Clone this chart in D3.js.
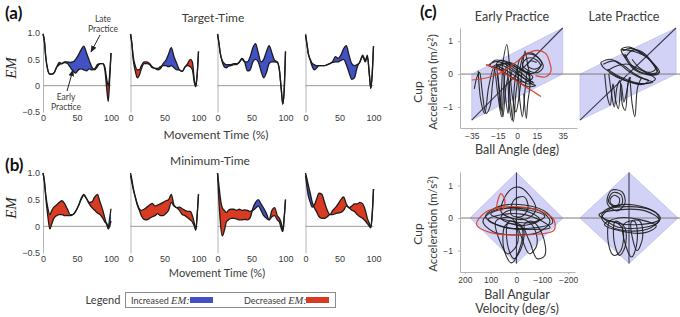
<!DOCTYPE html>
<html>
<head>
<meta charset="utf-8">
<script src="https://cdn.jsdelivr.net/npm/d3@7"></script>
<style>
body { margin: 0; background: #fff; }
svg { display: block; font-family: Lato, "Open Sans", sans-serif; }
</style>
</head>
<body>
<svg id="fig" width="680" height="317"></svg>
<script>
// ---- data: EM over movement time (early vs late practice) ----
const movementTime = [0, 2, 4, 7, 10, 13, 16, 20, 24, 28, 32, 36, 40, 44, 48, 52, 56, 60, 64, 68, 72, 76, 80, 84, 88, 91, 94, 96, 98, 100];
const emTicks = [1, 0.5, 0, -0.5];
const timeTicks = [0, 50, 100];

const targetEarly = [
    [0.98, 0.85, 0.55, 0.3, 0.22, 0.22, 0.24, 0.35, 0.44, 0.42, 0.44, 0.42, 0.35, 0.28, 0.24, 0.3, 0.32, 0.3, 0.28, 0.32, 0.3, 0.32, 0.4, 0.42, 0.42, 0.35, 0.1, 0.0, 0.2, 0.62],
    [0.98, 0.8, 0.55, 0.38, 0.3, 0.3, 0.38, 0.45, 0.45, 0.42, 0.36, 0.33, 0.33, 0.36, 0.38, 0.38, 0.36, 0.38, 0.34, 0.3, 0.3, 0.27, 0.35, 0.42, 0.5, 0.45, 0.1, 0.0, 0.2, 0.65],
    [0.98, 0.82, 0.62, 0.45, 0.36, 0.34, 0.37, 0.38, 0.4, 0.4, 0.45, 0.52, 0.45, 0.28, 0.3, 0.45, 0.5, 0.45, 0.28, 0.15, 0.25, 0.42, 0.45, 0.45, 0.44, 0.3, -0.1, -0.35, -0.1, 0.65],
    [0.97, 0.8, 0.62, 0.48, 0.36, 0.3, 0.33, 0.38, 0.38, 0.38, 0.4, 0.42, 0.44, 0.45, 0.45, 0.48, 0.5, 0.4, 0.25, 0.12, 0.15, 0.35, 0.45, 0.55, 0.45, 0.55, 0.2, -0.05, 0.2, 0.75]
];
const targetLate = [
    [0.98, 0.85, 0.55, 0.3, 0.22, 0.22, 0.24, 0.35, 0.4, 0.42, 0.45, 0.45, 0.44, 0.45, 0.5, 0.58, 0.68, 0.75, 0.62, 0.48, 0.35, 0.3, 0.36, 0.42, 0.42, 0.3, -0.1, -0.3, 0.1, 0.62],
    [0.98, 0.8, 0.5, 0.28, 0.15, 0.2, 0.32, 0.42, 0.42, 0.4, 0.34, 0.33, 0.3, 0.32, 0.42, 0.48, 0.6, 0.72, 0.55, 0.42, 0.3, 0.27, 0.35, 0.38, 0.36, 0.3, 0.05, -0.02, 0.2, 0.65],
    [0.98, 0.82, 0.62, 0.48, 0.42, 0.4, 0.4, 0.4, 0.42, 0.42, 0.44, 0.5, 0.45, 0.45, 0.55, 0.72, 0.8, 0.62, 0.45, 0.5, 0.65, 0.76, 0.62, 0.48, 0.45, 0.3, -0.1, -0.35, -0.1, 0.65],
    [0.97, 0.8, 0.62, 0.5, 0.42, 0.4, 0.38, 0.38, 0.38, 0.38, 0.4, 0.42, 0.46, 0.55, 0.52, 0.58, 0.7, 0.76, 0.58, 0.42, 0.38, 0.4, 0.45, 0.58, 0.48, 0.58, 0.2, -0.05, 0.2, 0.75]
];
const minimumEarly = [
    [1.0, 0.85, 0.6, 0.35, 0.22, 0.3, 0.36, 0.4, 0.45, 0.48, 0.42, 0.32, 0.22, 0.22, 0.28, 0.38, 0.5, 0.58, 0.52, 0.45, 0.46, 0.55, 0.6, 0.45, 0.3, 0.15, 0.02, -0.05, 0.0, 0.1],
    [0.95, 0.82, 0.7, 0.55, 0.42, 0.33, 0.3, 0.32, 0.36, 0.4, 0.43, 0.38, 0.4, 0.42, 0.45, 0.48, 0.5, 0.6, 0.4, 0.35, 0.36, 0.33, 0.3, 0.28, 0.28, 0.2, 0.05, -0.07, 0.2, 0.6],
    [1.0, 0.78, 0.55, 0.35, 0.3, 0.26, 0.3, 0.32, 0.32, 0.3, 0.32, 0.3, 0.31, 0.3, 0.28, 0.3, 0.34, 0.38, 0.3, 0.2, 0.15, 0.12, 0.3, 0.35, 0.2, 0.15, 0.05, -0.08, 0.15, 0.5],
    [0.95, 0.75, 0.58, 0.45, 0.36, 0.4, 0.5, 0.62, 0.6, 0.45, 0.3, 0.22, 0.3, 0.35, 0.42, 0.5, 0.55, 0.42, 0.35, 0.38, 0.42, 0.42, 0.45, 0.42, 0.3, 0.15, 0.05, -0.02, 0.2, 0.7]
];
const minimumLate = [
    [1.0, 0.85, 0.55, 0.2, -0.05, 0.05, 0.15, 0.2, 0.22, 0.22, 0.2, 0.2, 0.2, 0.22, 0.28, 0.38, 0.52, 0.6, 0.52, 0.42, 0.35, 0.3, 0.25, 0.22, 0.15, 0.08, 0.05, -0.02, 0.15, 0.33],
    [1.0, 0.88, 0.72, 0.55, 0.4, 0.3, 0.2, 0.13, 0.12, 0.15, 0.18, 0.2, 0.24, 0.2, 0.2, 0.24, 0.3, 0.45, 0.38, 0.35, 0.3, 0.22, 0.2, 0.16, 0.12, 0.08, 0.0, -0.07, 0.2, 0.6],
    [1.0, 0.5, 0.1, -0.18, -0.08, 0.08, 0.12, 0.15, 0.15, 0.14, 0.12, 0.12, 0.13, 0.12, 0.16, 0.34, 0.45, 0.5, 0.42, 0.34, 0.24, 0.12, 0.18, 0.2, 0.12, 0.08, -0.05, -0.1, 0.15, 0.5],
    [1.0, 0.9, 0.78, 0.62, 0.45, 0.35, 0.28, 0.18, 0.15, 0.15, 0.18, 0.22, 0.22, 0.24, 0.25, 0.26, 0.3, 0.38, 0.35, 0.3, 0.28, 0.22, 0.18, 0.15, 0.1, 0.05, 0.0, -0.03, 0.2, 0.7]
];

// ---- data: phase portraits, panel (c) ----
const angleLimit = 35;     // deg
const velocityLimit = 180; // deg/s
const accLimit = 1.4;      // m/s^2
const angleTicks = [-35, -15, 0, 15, 35];
const velocityTicks = [200, 100, 0, -100, -200];
const accTicks = [1, 0, -1];

const earlyAnglePaths = [
    [[-30, 0.1], [-28, -0.8], [-25, -1.2], [-22, -0.4], [-18, 0.2], [-15, -0.6], [-12, -1.3], [-10, -0.2], [-8, 0.3], [-6, -1.0], [-4, -1.4], [-2, -0.3], [0, 0.2], [2, -0.8], [4, -1.3], [6, -0.5], [8, 0.1], [10, -0.3]],
    [[-33, -0.45], [-31, -0.1], [-29, 0.05], [-27, -0.5], [-24, -1.2], [-21, -1.0], [-19, -0.3], [-17, 0.25]],
    [[-22, 0.28], [-16, 0.38], [-9, 0.3], [-2, 0.1], [5, -0.12], [11, -0.3], [14, -0.35], [8, -0.38], [0, -0.22], [-8, 0.0], [-15, 0.18], [-21, 0.25], [-17, 0.42], [-10, 0.38], [-3, 0.2], [4, 0.0], [10, -0.2], [13, -0.28]],
    [[-18, 0.1], [-12, 0.32], [-5, 0.28], [2, 0.15], [8, 0.05], [12, -0.1], [6, -0.25], [-2, -0.15], [-10, 0.05], [-14, 0.2], [-6, 0.35], [2, 0.2], [9, 0.0]],
    [[0, 0.05], [2, 0.45], [7, 0.6], [13, 0.58], [18, 0.42], [20, 0.22], [16, 0.05], [9, 0.1], [4, 0.3], [8, 0.48], [14, 0.45], [18, 0.25], [12, 0.02], [5, 0.08]],
    [[-12, 0.1], [-8, 0.9], [-6, 0.3], [-4, -0.6], [-1, -1.15], [2, -0.5], [4, 0.2], [6, 0.7], [8, 0.3], [10, -0.2], [8, -0.9], [7, -1.35], [5, -0.6]],
    [[-15, 0.0], [-13, -0.7], [-11, -1.3], [-9, -0.5], [-7, -0.1], [-5, -0.9], [-3, -1.45], [-1, -0.6], [1, 0.0]],
    [[-20, 0.2], [-14, 0.3], [-6, 0.15], [0, 0.0], [6, -0.15], [12, -0.25], [8, -0.3], [0, -0.1], [-8, 0.1], [-16, 0.3], [-12, 0.42], [-4, 0.3], [4, 0.1], [10, -0.05]],
    [[2, 0.1], [5, 0.55], [10, 0.65], [16, 0.5], [19, 0.3], [14, 0.15], [8, 0.25], [10, 0.4], [15, 0.35]],
    [[-16, 0.3], [-14, -0.5], [-13, -1.1], [-12, -0.4], [-11, 0.2], [-9, -0.7], [-7, -1.2], [-6, -0.4], [-4, 0.1]]
];
const earlyAngleRed = [
    [[-35, -0.18], [-28, -0.15], [-18, -0.05], [-8, 0.15], [2, 0.45], [9, 0.65], [16, 0.72], [22, 0.62], [25, 0.35], [26, 0.1], [22, -0.08], [14, -0.05]],
    [[-24, 0.28], [-14, 0.12], [-4, -0.12], [6, -0.38], [16, -0.62], [18, -0.68], [12, -0.52], [2, -0.28], [-8, -0.02], [-16, 0.16], [-24, 0.3]]
];
const lateAnglePaths = [
    [[-5, 0.75], [5, 0.68], [14, 0.5], [21, 0.15], [22, 0.0], [14, -0.02], [5, 0.12], [-1, 0.42], [-5, 0.75], [1, 0.82], [10, 0.62], [18, 0.35], [23, 0.05], [12, 0.0], [2, 0.25], [-3, 0.6]],
    [[-20, 0.35], [-13, 0.45], [-6, 0.3], [0, 0.1], [8, -0.1], [15, -0.2], [10, -0.32], [0, -0.22], [-10, -0.02], [-18, 0.2], [-20, 0.35]],
    [[-17, 0.0], [-15, -0.7], [-13, -0.95], [-11, -0.3], [-9, -0.8], [-7, -1.05], [-5, -0.3], [-3, -0.85], [-1, -0.55], [1, -0.1], [3, -0.9], [5, -1.3], [7, -0.4], [10, -0.1]],
    [[-15, 0.1], [-8, 0.25], [0, 0.3], [8, 0.15], [15, 0.0], [20, -0.15], [12, -0.3], [2, -0.25], [-8, -0.1], [-14, 0.05]],
    [[-2, 0.5], [3, 0.72], [9, 0.7], [16, 0.45], [20, 0.15], [15, 0.05], [8, 0.2], [3, 0.45]],
    [[-4, 0.7], [2, 0.78], [12, 0.58], [19, 0.25], [21, 0.05], [10, 0.05], [2, 0.3], [-2, 0.6]],
    [[-18, 0.3], [-10, 0.4], [-3, 0.25], [5, 0.0], [12, -0.15], [18, -0.25], [8, -0.28], [-5, -0.1], [-15, 0.15]],
    [[-14, 0.0], [-12, -0.6], [-10, -1.0], [-8, -0.4], [-6, -0.2], [-4, -0.95], [-2, -1.1], [0, -0.3], [2, -0.1]]
];
const earlyVelocityLoops = [
    [[130, -0.1], [90, 0.22], [0, 0.32], [-90, 0.22], [-130, -0.1], [-90, -0.42], [0, -0.52], [90, -0.42]],
    [[60, 0.2], [30, 0.82], [-10, 0.95], [-50, 0.7], [-75, 0.25], [-40, -0.02], [20, 0.0]],
    [[40, -0.2], [50, -0.9], [20, -1.38], [-10, -1.0], [-20, -0.3]],
    [[-30, -0.2], [-55, -0.8], [-80, -1.25], [-110, -1.15], [-100, -0.5], [-60, -0.1]],
    [[80, -0.1], [65, -0.7], [35, -1.1], [0, -0.85], [-5, -0.4], [20, 0.0]],
    [[100, 0.12], [40, 0.3], [-40, 0.26], [-110, 0.05], [-60, -0.14], [20, -0.1]],
    [[110, -0.05], [60, 0.1], [-20, 0.12], [-100, -0.1], [-130, -0.3], [-60, -0.35], [40, -0.3]],
    [[20, 0.1], [10, 0.55], [-30, 0.65], [-45, 0.3], [-20, 0.05]],
    [[60, 0.0], [40, 0.2], [-10, 0.25], [-60, 0.15], [-90, -0.05], [-50, -0.2], [10, -0.2]],
    [[30, -0.1], [35, -0.8], [10, -1.25], [-20, -0.9], [-25, -0.3]],
    [[120, 0.05], [70, 0.35], [-30, 0.4], [-120, 0.15], [-140, -0.15], [-70, -0.3], [60, -0.25]],
    [[0, 0.0], [-20, -0.6], [-50, -1.1], [-80, -0.8], [-60, -0.2]]
];
const earlyVelocityRed = [
    [[155, -0.2], [120, 0.18], [60, 0.33], [0, 0.35], [-80, 0.25], [-145, -0.05], [-145, -0.38], [-80, -0.5], [0, -0.52], [100, -0.45]],
    [[70, 0.6], [60, 0.75], [45, 0.55], [55, 0.25], [75, 0.3]]
];
const lateVelocityLoops = [
    [[100, 0.0], [70, 0.28], [0, 0.35], [-80, 0.25], [-115, 0.0], [-80, -0.3], [0, -0.4], [70, -0.25]],
    [[80, 0.45], [65, 0.85], [25, 0.8], [15, 0.45], [45, 0.22]],
    [[70, -0.1], [75, -0.8], [55, -1.15], [30, -1.0], [25, -0.3]],
    [[20, -0.2], [10, -0.9], [-10, -1.2], [-30, -0.7], [-20, -0.1]],
    [[110, 0.1], [40, 0.25], [-60, 0.22], [-110, -0.05], [-40, -0.2], [60, -0.12]],
    [[90, -0.2], [40, 0.0], [-40, -0.05], [-100, -0.25], [-60, -0.45], [30, -0.4]],
    [[70, 0.55], [55, 0.7], [35, 0.6], [40, 0.4], [60, 0.4]],
    [[100, 0.1], [60, 0.35], [-20, 0.4], [-100, 0.15], [-110, -0.1], [-50, -0.3], [50, -0.25]],
    [[50, -0.1], [55, -0.7], [35, -1.15], [15, -0.9], [15, -0.3]],
    [[75, 0.5], [60, 0.78], [30, 0.72], [25, 0.45], [50, 0.35]],
    [[-10, -0.1], [-15, -0.7], [-30, -1.0], [-50, -0.6], [-40, -0.1]]
];

const blue = "#4251c4", red = "#d83a22", ink = "#1c1c1c", label = "#3a3a3a";

const svg = d3.select("#fig");
const defs = svg.append("defs");
defs.append("marker").attr("id", "arrow").attr("viewBox", "0 0 10 10")
    .attr("refX", 9).attr("refY", 5).attr("markerWidth", 7).attr("markerHeight", 7)
    .attr("orient", "auto")
    .append("path").attr("d", "M0,1 L10,5 L0,9 Z").attr("fill", "#222");

function styleAxis(g, size = 9) {
    g.selectAll("text").attr("fill", label).attr("font-size", size);
    g.select(".domain").attr("stroke", "#b5b5b5");
}

// ---- panels (a) and (b) ----
const subplotLefts = [43, 130.5, 217.5, 305.5];
const subplotWidth = 68;

function drawEmRow(earlyRows, lateRows, top, bottom) {
    let y = d3.scaleLinear([-0.5, 1], [bottom, top]);
    subplotLefts.forEach((left, i) => {
        let x = d3.scaleLinear([0, 100], [left, left + subplotWidth]);
        let rows = movementTime.map((t, k) => ({ t, e: earlyRows[i][k], l: lateRows[i][k] }));
        let g = svg.append("g");

        let yAxis = d3.axisLeft(y).tickValues(i == 0 ? emTicks : []).tickSize(0).tickSizeOuter(0).tickPadding(3)
            .tickFormat(d => d == 0 ? "0" : d3.format(".1f")(d));
        g.append("g").attr("transform", `translate(${left},0)`).call(yAxis).call(styleAxis);

        let xAxis = d3.axisBottom(x).tickValues(timeTicks).tickSize(0).tickPadding(3);
        g.append("g").attr("transform", `translate(0,${bottom})`).call(xAxis).call(styleAxis)
            .select(".domain").remove();

        g.append("line").attr("x1", x(0)).attr("x2", x(100)).attr("y1", y(0)).attr("y2", y(0))
            .attr("stroke", "#9a9a9a").attr("stroke-width", 1);

        let area = d3.area().x(d => x(d.t)).curve(d3.curveMonotoneX);
        g.append("path").datum(rows).attr("fill", blue)
            .attr("d", area.y0(d => y(d.e)).y1(d => y(Math.max(d.e, d.l))));
        g.append("path").datum(rows).attr("fill", red)
            .attr("d", area.y0(d => y(d.e)).y1(d => y(Math.min(d.e, d.l))));

        let line = d3.line().x(d => x(d.t)).curve(d3.curveMonotoneX);
        g.append("path").datum(rows).attr("fill", "none").attr("stroke", ink).attr("stroke-width", 1.3)
            .attr("d", line.y(d => y(d.e)));
        g.append("path").datum(rows).attr("fill", "none").attr("stroke", ink).attr("stroke-width", 1.3)
            .attr("d", line.y(d => y(d.l)));
    });
    return y;
}

drawEmRow(targetEarly, targetLate, 33, 112);
drawEmRow(minimumEarly, minimumLate, 173, 253);

svg.append("text").attr("x", 5).attr("y", 19).attr("font-size", 17).attr("font-weight", "bold").attr("fill", "#111").text("(a)");
svg.append("text").attr("x", 5).attr("y", 171).attr("font-size", 17).attr("font-weight", "bold").attr("fill", "#111").text("(b)");
svg.append("text").attr("x", 420).attr("y", 18).attr("font-size", 17).attr("font-weight", "bold").attr("fill", "#111").text("(c)");

svg.append("text").attr("x", 213).attr("y", 22).attr("text-anchor", "middle").attr("font-size", 12).attr("fill", label).text("Target-Time");
svg.append("text").attr("x", 210).attr("y", 165).attr("text-anchor", "middle").attr("font-size", 12).attr("fill", label).text("Minimum-Time");
svg.append("text").attr("x", 216).attr("y", 139).attr("text-anchor", "middle").attr("font-size", 12).attr("fill", label).text("Movement Time (%)");
svg.append("text").attr("x", 217).attr("y", 277).attr("text-anchor", "middle").attr("font-size", 11).attr("fill", label).text("Movement Time (%)");

for (let cy of [68, 208]) {
    svg.append("text").attr("transform", `translate(16,${cy}) rotate(-90)`).attr("text-anchor", "middle")
        .attr("font-family", "'Liberation Serif', serif").attr("font-style", "italic").attr("font-size", 15)
        .attr("fill", "#222").text("EM");
}

// annotations in first target-time subplot
let note = svg.append("g").attr("font-size", 8.5).attr("fill", label).attr("text-anchor", "middle");
note.append("text").attr("x", 103).attr("y", 22).text("Late");
note.append("text").attr("x", 103).attr("y", 32).text("Practice");
note.append("text").attr("x", 66).attr("y", 100).text("Early");
note.append("text").attr("x", 66).attr("y", 110).text("Practice");
svg.append("line").attr("x1", 100).attr("y1", 35).attr("x2", 91).attr("y2", 52)
    .attr("stroke", "#222").attr("stroke-width", 1).attr("marker-end", "url(#arrow)");
svg.append("line").attr("x1", 67).attr("y1", 91).attr("x2", 73).attr("y2", 70)
    .attr("stroke", "#222").attr("stroke-width", 1).attr("marker-end", "url(#arrow)");

// legend
svg.append("text").attr("x", 103).attr("y", 304).attr("text-anchor", "middle").attr("font-size", 11).attr("fill", label).text("Legend");
svg.append("rect").attr("x", 125.5).attr("y", 292.5).attr("width", 210).attr("height", 15)
    .attr("fill", "none").attr("stroke", "#8a8a8a");
[{ x: 131, word: "Increased", sw: 190, c: blue }, { x: 244, word: "Decreased", sw: 306, c: red }].forEach(d => {
    let t = svg.append("text").attr("x", d.x).attr("y", 303.5).attr("font-size", 9).attr("fill", label);
    t.append("tspan").text(d.word + " ");
    t.append("tspan").attr("font-family", "'Liberation Serif', serif").attr("font-style", "italic").attr("font-size", 10.5).text("EM:");
    svg.append("rect").attr("x", d.sw).attr("y", 297).attr("width", 23).attr("height", 6).attr("fill", d.c);
});

// ---- panel (c) ----
const topAcc = d3.scaleLinear([-1.64, 1.4], [128, 28]);
const bottomAcc = d3.scaleLinear([-1.66, 1.415], [272, 172]);
const angleEarly = d3.scaleLinear([-44, 46], [460, 577]);
const angleLate = d3.scaleLinear([-35, 35], [580, 676]);
const velocityEarly = d3.scaleLinear([219, -227], [460, 575]);
const velocityLate = d3.scaleLinear([200, -200], [574.5, 683.5]);

const shade = "#d2d2f6", shadeEdge = "#b4b4ea";

function drawParallelogram(x, y) {
    let pts = [[-angleLimit, -accLimit], [-angleLimit, 0], [angleLimit, accLimit], [angleLimit, 0]];
    svg.append("path").attr("d", d3.line().x(d => x(d[0])).y(d => y(d[1]))(pts) + "Z")
        .attr("fill", shade).attr("stroke", shadeEdge).attr("stroke-width", 0.6);
    svg.append("line").attr("x1", x(-angleLimit)).attr("y1", y(-accLimit)).attr("x2", x(angleLimit)).attr("y2", y(accLimit))
        .attr("stroke", "#3c3c55").attr("stroke-width", 1.1);
}
function drawDiamond(x, y) {
    let pts = [[velocityLimit, 0], [0, accLimit], [-velocityLimit, 0], [0, -accLimit]];
    svg.append("path").attr("d", d3.line().x(d => x(d[0])).y(d => y(d[1]))(pts) + "Z")
        .attr("fill", shade).attr("stroke", shadeEdge).attr("stroke-width", 0.6);
    svg.append("line").attr("x1", x(0)).attr("y1", y(accLimit)).attr("x2", x(0)).attr("y2", y(-accLimit))
        .attr("stroke", "#3c3c55").attr("stroke-width", 1.1);
}
function drawTraces(paths, x, y, color, closed, width = 1.1) {
    let line = d3.line().x(d => x(d[0])).y(d => y(d[1]))
        .curve(closed ? d3.curveCatmullRomClosed : d3.curveCatmullRom);
    svg.append("g").selectAll("path").data(paths).join("path")
        .attr("d", line).attr("fill", "none").attr("stroke", color)
        .attr("stroke-width", width).attr("stroke-opacity", 0.9);
}

drawParallelogram(angleEarly, topAcc);
drawParallelogram(angleLate, topAcc);
drawDiamond(velocityEarly, bottomAcc);
drawDiamond(velocityLate, bottomAcc);

for (let y of [topAcc, bottomAcc]) {
    svg.append("line").attr("x1", 460).attr("x2", 680).attr("y1", y(0)).attr("y2", y(0))
        .attr("stroke", "#7d7d7d").attr("stroke-width", 1);
}

drawTraces(earlyAnglePaths, angleEarly, topAcc, ink, false);
drawTraces(earlyAngleRed, angleEarly, topAcc, red, false, 1.2);
drawTraces(lateAnglePaths, angleLate, topAcc, ink, false);
drawTraces(earlyVelocityLoops, velocityEarly, bottomAcc, ink, true);
drawTraces(earlyVelocityRed, velocityEarly, bottomAcc, red, true, 1.2);
drawTraces(lateVelocityLoops, velocityLate, bottomAcc, ink, true);

// axes for early practice plots
const signed = d => d < 0 ? "\u2212" + Math.abs(d) : String(d);
function phaseAxes(x, y, xTicks) {
    svg.append("g").attr("transform", `translate(460,0)`)
        .call(d3.axisLeft(y).tickValues(accTicks).tickSize(2).tickSizeOuter(0).tickPadding(5).tickFormat(signed))
        .call(styleAxis, 8.5)
        .selectAll(".tick line").attr("stroke", "#b5b5b5");
    svg.append("g").attr("transform", `translate(0,${y.range()[0]})`)
        .call(d3.axisBottom(x).tickValues(xTicks).tickSize(2).tickSizeOuter(0).tickPadding(3).tickFormat(signed))
        .call(styleAxis, 8.5)
        .selectAll(".tick line").attr("stroke", "#b5b5b5");
}
phaseAxes(angleEarly, topAcc, angleTicks);
phaseAxes(velocityEarly, bottomAcc, velocityTicks);

let cLabels = svg.append("g").attr("fill", label).attr("text-anchor", "middle");
cLabels.append("text").attr("x", 512).attr("y", 21).attr("font-size", 12.5).text("Early Practice");
cLabels.append("text").attr("x", 624).attr("y", 21).attr("font-size", 12.5).text("Late Practice");
cLabels.append("text").attr("x", 517).attr("y", 154).attr("font-size", 12.5).text("Ball Angle (deg)");
cLabels.append("text").attr("x", 517).attr("y", 299).attr("font-size", 12.5).text("Ball Angular");
cLabels.append("text").attr("x", 517).attr("y", 313).attr("font-size", 12.5).text("Velocity (deg/s)");
for (let cy of [82, 224]) {
    cLabels.append("text").attr("transform", `translate(422,${cy + 10}) rotate(-90)`).attr("font-size", 12).text("Cup");
    let t = cLabels.append("text").attr("transform", `translate(437,${cy}) rotate(-90)`).attr("font-size", 11.5);
    t.append("tspan").text("Acceleration (m/s");
    t.append("tspan").attr("font-size", 7.5).attr("dy", -4).text("2");
    t.append("tspan").attr("dy", 4).text(")");
}
</script>
</body>
</html>
